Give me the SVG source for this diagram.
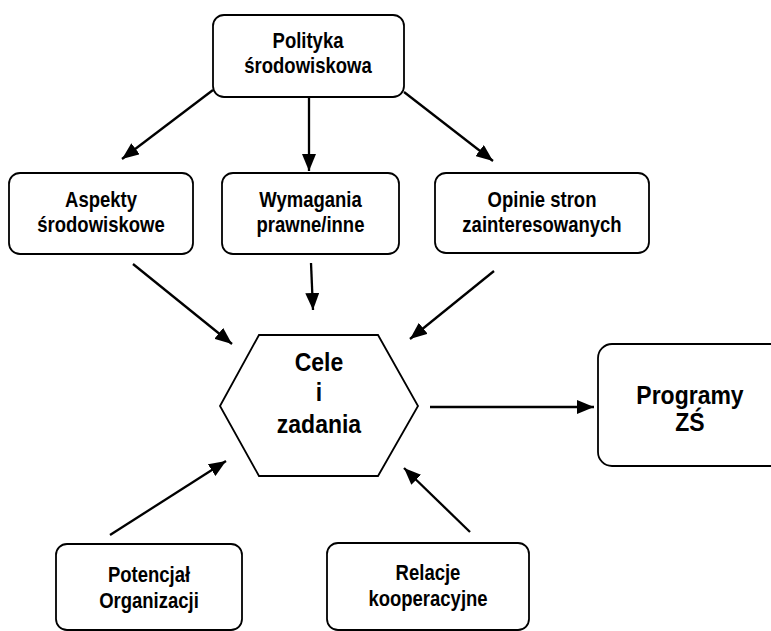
<svg xmlns="http://www.w3.org/2000/svg" width="771" height="631" viewBox="0 0 771 631">
<defs>
<style>
.box{fill:#fff;stroke:#000;stroke-width:1.8}
.t{font-family:"Liberation Sans",Arial,sans-serif;font-weight:bold;font-size:18.5px;text-anchor:middle;fill:#000}
.tl{font-family:"Liberation Sans",Arial,sans-serif;font-weight:bold;font-size:23px;text-anchor:middle;fill:#000}
.c{stroke:#000;stroke-width:2.3;fill:none;marker-end:url(#ah)}
</style>
<marker id="ah" markerUnits="userSpaceOnUse" markerWidth="18" markerHeight="14" refX="17" refY="7" orient="auto">
<path d="M0,0 L17,7 L0,14 Z" fill="#000"/>
</marker>
</defs>
<rect width="771" height="631" fill="#fff"/>
<g id="connectors">
<line class="c" x1="213" y1="90" x2="122" y2="159"/>
<line class="c" x1="309" y1="97" x2="309" y2="171"/>
<line class="c" x1="404" y1="92" x2="493" y2="161"/>
<line class="c" x1="133" y1="264" x2="232" y2="344"/>
<line class="c" x1="311" y1="263" x2="313" y2="310"/>
<line class="c" x1="494" y1="271" x2="410" y2="339"/>
<line class="c" x1="430" y1="407" x2="594" y2="407"/>
<line class="c" x1="110" y1="535" x2="226" y2="461"/>
<line class="c" x1="470" y1="532" x2="404" y2="468"/>
</g>
<g id="polityka">
<rect class="box" x="213" y="15" width="191" height="82" rx="11"/>
<text class="t" transform="translate(308,48) scale(1,1.15)">Polityka</text>
<text class="t" transform="translate(308,73) scale(1,1.15)">środowiskowa</text>
</g>
<g id="aspekty">
<rect class="box" x="9" y="173" width="184" height="81" rx="11"/>
<text class="t" transform="translate(101,207) scale(1,1.15)">Aspekty</text>
<text class="t" transform="translate(101,232) scale(1,1.15)">środowiskowe</text>
</g>
<g id="wymagania">
<rect class="box" x="222" y="173" width="177" height="81" rx="11"/>
<text class="t" transform="translate(310.5,207) scale(1,1.15)">Wymagania</text>
<text class="t" transform="translate(310.5,232) scale(1,1.15)">prawne/inne</text>
</g>
<g id="opinie">
<rect class="box" x="435" y="173" width="214" height="80" rx="11"/>
<text class="t" transform="translate(542,207) scale(1,1.15)">Opinie stron</text>
<text class="t" transform="translate(542,232) scale(1,1.15)">zainteresowanych</text>
</g>
<g id="cele">
<polygon class="box" points="220,406 259,335 378,335 418,406 378,476 259,476"/>
<text class="tl" transform="translate(319,371) scale(1,1.15)">Cele</text>
<text class="tl" transform="translate(319,401) scale(1,1.15)">i</text>
<text class="tl" transform="translate(319,433) scale(1,1.15)">zadania</text>
</g>
<g id="programy">
<rect class="box" x="598" y="344" width="200" height="122" rx="14"/>
<text class="tl" transform="translate(690,404) scale(1,1.15)">Programy</text>
<text class="tl" transform="translate(690,431) scale(1,1.15)">ZŚ</text>
</g>
<g id="potencjal">
<rect class="box" x="56" y="544" width="186" height="86" rx="11"/>
<text class="t" transform="translate(149,582) scale(1,1.15)">Potencjał</text>
<text class="t" transform="translate(149,608) scale(1,1.15)">Organizacji</text>
</g>
<g id="relacje">
<rect class="box" x="327" y="543" width="202" height="87" rx="11"/>
<text class="t" transform="translate(428,580) scale(1,1.15)">Relacje</text>
<text class="t" transform="translate(428,606) scale(1,1.15)">kooperacyjne</text>
</g>
</svg>
